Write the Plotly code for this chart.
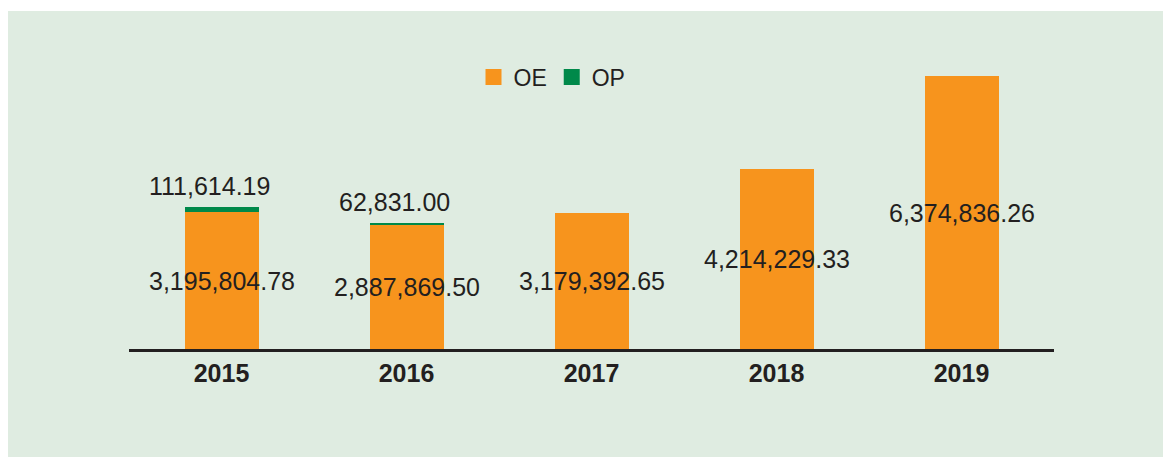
import plotly.graph_objects as go

years = ["2015", "2016", "2017", "2018", "2019"]
oe_values = [3195804.78, 2887869.50, 3179392.65, 4214229.33, 6374836.26]
op_values = [111614.19, 62831.00, None, None, None]
series_names = ["OE", "OP"]

ORANGE = "#f7941d"
GREEN = "#00894a"
BG = "#dfece1"
TEXT = "#231f20"

W, H = 1163, 458
ML, MR, MT, MB = 129, 109, 60, 109
pw = W - ML - MR
ph = H - MT - MB

fig = go.Figure()
fig.add_trace(go.Bar(x=years, y=oe_values, name=series_names[0], marker=dict(color=ORANGE, line=dict(width=0)),
                     width=0.4, showlegend=False, hoverinfo="skip"))
fig.add_trace(go.Bar(x=years, y=[v if v is not None else 0 for v in op_values], name=series_names[1],
                     marker=dict(color=GREEN, line=dict(width=0)), width=0.4, showlegend=False, hoverinfo="skip"))
# legend entries
for nm, col in zip(series_names, [ORANGE, GREEN]):
    fig.add_trace(go.Scatter(x=[None], y=[None], mode="markers", name=nm,
                             marker=dict(symbol="square", size=16, color=col)))

annotations = []
for i, (oe, op) in enumerate(zip(oe_values, op_values)):
    annotations.append(dict(x=i, y=oe / 2, text=f"{oe:,.2f}", showarrow=False,
                            font=dict(family="Liberation Sans", size=25, color=TEXT)))
    if op is not None:
        annotations.append(dict(x=i, y=oe + op, text=f"{op:,.2f}", showarrow=False, yanchor="bottom",
                                yshift=5, xshift=-12,
                                font=dict(family="Liberation Sans", size=25, color=TEXT)))

ymax = oe_values[-1] * ph / 273

fig.update_layout(
    width=W, height=H,
    margin=dict(l=ML, r=MR, t=MT, b=MB, pad=0),
    paper_bgcolor="white",
    plot_bgcolor=BG,
    barmode="stack",
    bargap=0.6,
    annotations=annotations,
    showlegend=True,
    legend=dict(orientation="h", x=(552 - ML) / pw, xanchor="center", y=(H - MB - 77) / ph, yanchor="middle",
                font=dict(family="Liberation Sans", size=23, color=TEXT), bgcolor="rgba(0,0,0,0)",
                itemwidth=30, tracegroupgap=0, traceorder="normal"),
    xaxis=dict(type="category", range=[-0.5, 4.5], showline=True, linecolor=TEXT, linewidth=3,
               showgrid=False, zeroline=False, ticks="",
               tickfont=dict(family="Liberation Sans", size=25, color=TEXT, weight="bold")),
    yaxis=dict(range=[0, ymax], visible=False, showgrid=False, zeroline=False),
    shapes=[dict(type="rect", xref="paper", yref="paper", layer="below",
                 x0=(8 - ML) / pw, x1=(W - ML) / pw, y0=(H - MB - 457) / ph, y1=(H - MB - 11) / ph,
                 fillcolor=BG, line=dict(width=0))],
)

fig.write_html("out.html", config={"displayModeBar": False},
               post_script="document.body.style.margin='0';document.body.style.overflow='hidden';")
